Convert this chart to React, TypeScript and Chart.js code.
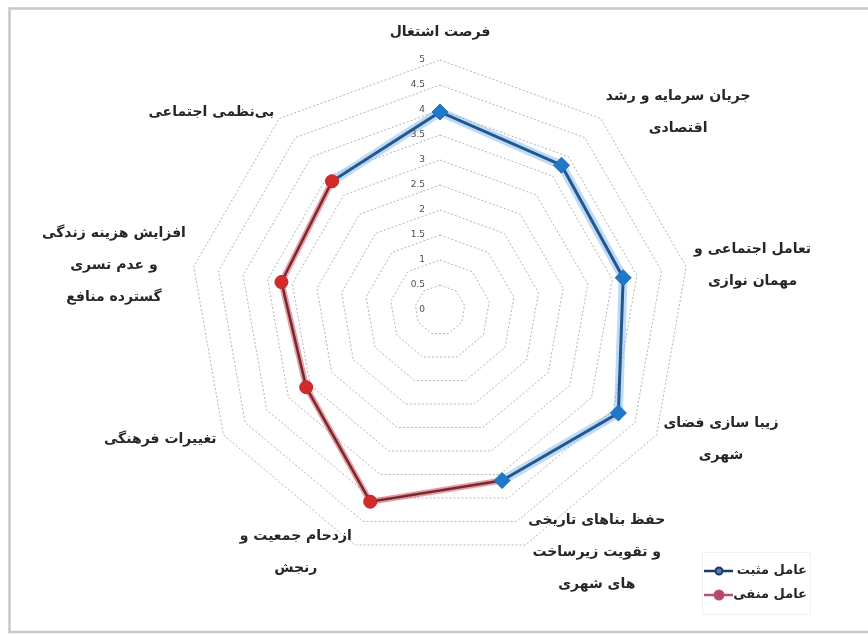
import React, { useEffect, useRef } from 'react';
import { Chart, registerables } from 'chart.js';

Chart.register(...registerables);

// ---- data ----
const categories: string[][] = [
  ['فرصت اشتغال'],
  ['جریان سرمایه و رشد', 'اقتصادی'],
  ['تعامل اجتماعی و', 'مهمان نوازی'],
  ['زیبا سازی فضای', 'شهری'],
  ['حفظ بناهای تاریخی', 'و تقویت زیرساخت', 'های شهری'],
  ['ازدحام جمعیت و', 'رنجش'],
  ['تغییرات فرهنگی'],
  ['افزایش هزینه زندگی', 'و عدم تسری', 'گسترده منافع'],
  ['بی‌نظمی اجتماعی'],
];
const positiveValues: (number | null)[] = [3.96, 3.78, 3.72, 4.12, 3.63, null, null, null, null];
const negativeValues: (number | null)[] = [null, null, null, null, null, 4.08, 3.09, 3.22, 3.36];
const seriesNames = ['عامل مثبت', 'عامل منفی'];
const scaleMin = 0;
const scaleMax = 5;
const scaleStep = 0.5;

const FONT = '"DejaVu Sans", "Noto Sans", sans-serif';

const framePlugin = {
  id: 'frame',
  beforeDraw(chart: any) {
    const ctx = chart.ctx;
    ctx.save();
    ctx.fillStyle = '#ffffff';
    ctx.fillRect(0, 0, chart.width, chart.height);
    ctx.strokeStyle = '#c8c8c8';
    ctx.lineWidth = 2.5;
    ctx.beginPath();
    ctx.moveTo(chart.width, 8.5);
    ctx.lineTo(9.5, 8.5);
    ctx.lineTo(9.5, 632);
    ctx.lineTo(chart.width, 632);
    ctx.stroke();
    ctx.restore();
  },
};

const tickLabelPlugin = {
  id: 'tickLabels',
  afterDatasetsDraw(chart: any) {
    const scale = chart.scales.r;
    const ctx = chart.ctx;
    ctx.save();
    ctx.font = '9px ' + FONT;
    ctx.fillStyle = '#4d4d4d';
    ctx.textAlign = 'right';
    ctx.textBaseline = 'middle';
    scale.ticks.forEach((t: any) => {
      const d = scale.getDistanceFromCenterForValue(t.value);
      ctx.fillText(String(t.value), scale.xCenter - 15, scale.yCenter - d);
    });
    ctx.restore();
  },
};

const pointLabelPlugin = {
  id: 'rtlPointLabels',
  afterDraw(chart: any) {
    const scale = chart.scales.r;
    const ctx = chart.ctx;
    const labels = chart.data.labels as string[][];
    const lineH = 32;
    ctx.save();
    ctx.font = 'bold 14px ' + FONT;
    ctx.fillStyle = '#262626';
    ctx.textAlign = 'center';
    ctx.textBaseline = 'middle';
    ctx.direction = 'rtl';
    labels.forEach((lines, i) => {
      const p = scale.getPointPosition(i, scale.drawingArea + 8);
      const dx = p.x - scale.xCenter;
      const w = Math.max(...lines.map((l) => ctx.measureText(l).width));
      const h = lines.length * lineH;
      let cx: number;
      let cy: number;
      if (Math.abs(dx) < 2) {
        const q = scale.getPointPosition(i, scale.drawingArea + 28);
        cx = q.x;
        cy = q.y;
      } else {
        cx = dx > 0 ? p.x + w / 2 : p.x - w / 2;
        cy = p.y;
      }
      lines.forEach((l, k) => ctx.fillText(l, cx, cy - h / 2 + lineH * (k + 0.5)));
    });
    ctx.restore();
  },
};

const legendPlugin = {
  id: 'boxLegend',
  afterDraw(chart: any) {
    const ctx = chart.ctx;
    const items = chart.data.datasets.filter((d: any) => d.legendLine);
    const right = chart.width - 58;
    const left = right - 108;
    const top = 552;
    ctx.save();
    ctx.strokeStyle = '#e3e3e3';
    ctx.lineWidth = 1;
    ctx.setLineDash([1, 1]);
    ctx.strokeRect(left + 0.5, top + 0.5, right - left, 62);
    ctx.setLineDash([]);
    items.forEach((d: any, k: number) => {
      const y = top + 19 + k * 24;
      ctx.strokeStyle = d.legendLine;
      ctx.lineWidth = 2.5;
      ctx.beginPath();
      ctx.moveTo(left + 2, y);
      ctx.lineTo(left + 31, y);
      ctx.stroke();
      ctx.beginPath();
      ctx.arc(left + 17, y, d.legendRadius, 0, Math.PI * 2);
      ctx.fillStyle = d.legendFill;
      ctx.fill();
      ctx.lineWidth = 2;
      ctx.strokeStyle = d.legendLine;
      ctx.stroke();
      ctx.font = 'bold 13px ' + FONT;
      ctx.fillStyle = '#262626';
      ctx.textAlign = 'right';
      ctx.textBaseline = 'middle';
      ctx.direction = 'rtl';
      ctx.fillText(d.label, right - 3, y);
    });
    ctx.restore();
  },
};

export default function App() {
  const ref = useRef<HTMLCanvasElement | null>(null);

  useEffect(() => {
    if (!ref.current) return;
    const n = categories.length;
    const combined = categories.map((_, i) => positiveValues[i] ?? negativeValues[i]);
    const joinLine = (own: (number | null)[]) =>
      combined.map((v, i) => (own[i] != null || own[(i + 1) % n] != null ? v : null));

    const chart = new Chart(ref.current, {
      type: 'radar',
      data: {
        labels: categories,
        datasets: [
          {
            label: seriesNames[0],
            data: positiveValues,
            showLine: false,
            fill: false,
            pointStyle: 'rectRot',
            pointRadius: 8,
            pointBackgroundColor: '#1f78c8',
            pointBorderColor: '#1d6db6',
            pointBorderWidth: 1,
            order: 0,
            legendLine: '#1f3864',
            legendFill: '#4f7fb5',
            legendRadius: 3.5,
          } as any,
          {
            label: seriesNames[1],
            data: negativeValues,
            showLine: false,
            fill: false,
            pointStyle: 'circle',
            pointRadius: 6.5,
            pointBackgroundColor: '#d12b2b',
            pointBorderColor: '#c42424',
            pointBorderWidth: 1,
            order: 1,
            legendLine: '#b8506f',
            legendFill: '#b5476b',
            legendRadius: 4.5,
          } as any,
          {
            label: 'positive-line',
            data: joinLine(positiveValues),
            borderColor: '#24578f',
            borderWidth: 3,
            pointRadius: 0,
            fill: false,
            spanGaps: false,
            order: 2,
          },
          {
            label: 'negative-line',
            data: joinLine(negativeValues),
            borderColor: '#6e2b36',
            borderWidth: 2.5,
            pointRadius: 0,
            fill: false,
            spanGaps: false,
            order: 3,
          },
          {
            label: 'positive-glow',
            data: joinLine(positiveValues),
            borderColor: 'rgba(110,175,235,0.45)',
            borderWidth: 9,
            pointRadius: 0,
            fill: false,
            spanGaps: false,
            order: 4,
          },
          {
            label: 'negative-glow',
            data: joinLine(negativeValues),
            borderColor: 'rgba(215,55,55,0.5)',
            borderWidth: 6,
            pointRadius: 0,
            fill: false,
            spanGaps: false,
            order: 5,
          },
        ],
      },
      options: {
        responsive: false,
        animation: false,
        layout: { padding: { top: 60, bottom: 75, left: 190, right: 178 } },
        elements: { line: { tension: 0, fill: false } },
        plugins: {
          legend: { display: false },
          tooltip: { enabled: false },
          filler: { propagate: false },
        } as any,
        scales: {
          r: {
            min: scaleMin,
            max: scaleMax,
            ticks: { stepSize: scaleStep, display: false },
            grid: { color: '#b5b5b5', lineWidth: 1, circular: false },
            border: { dash: [2, 2] },
            angleLines: { display: false },
            pointLabels: { display: false },
          } as any,
        },
      },
      plugins: [framePlugin, tickLabelPlugin, pointLabelPlugin, legendPlugin],
    });
    return () => chart.destroy();
  }, []);

  return (
    <div style={{ position: 'absolute', left: 0, top: 0, width: 868, height: 635, background: '#fff' }}>
      <canvas ref={ref} width={868} height={635} style={{ display: 'block', width: 868, height: 635 }} />
    </div>
  );
}
